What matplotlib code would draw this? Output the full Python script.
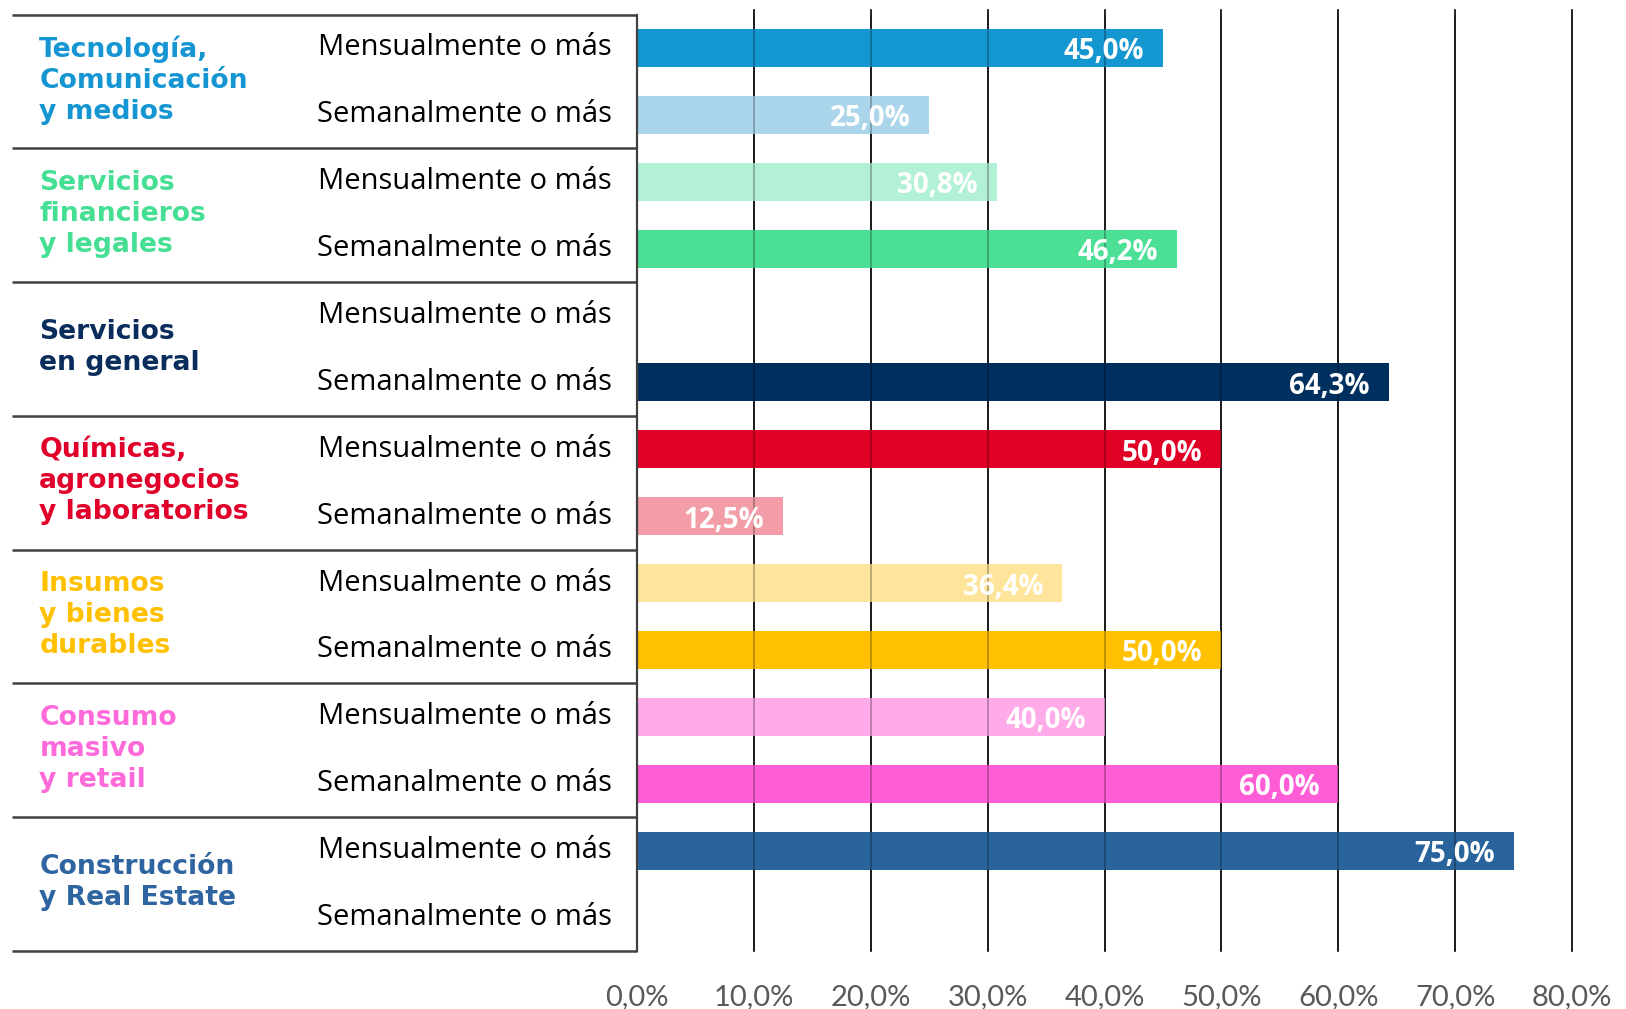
import matplotlib
matplotlib.use('Agg')
import matplotlib.pyplot as plt
from matplotlib.transforms import blended_transform_factory

# ---------------- data ----------------
categories = [
    "Tecnología,\nComunicación\ny medios",
    "Servicios\nfinancieros\ny legales",
    "Servicios\nen general",
    "Químicas,\nagronegocios\ny laboratorios",
    "Insumos\ny bienes\ndurables",
    "Consumo\nmasivo\ny retail",
    "Construcción\ny Real Estate",
]
frequencies = ["Mensualmente o más", "Semanalmente o más"]
mensual = [45.0, 30.8, None, 50.0, 36.4, 40.0, 75.0]
semanal = [25.0, 46.2, 64.3, 12.5, 50.0, 60.0, None]
ticks = [0, 10, 20, 30, 40, 50, 60, 70, 80]
tick_labels = ["0,0%", "10,0%", "20,0%", "30,0%", "40,0%", "50,0%", "60,0%", "70,0%", "80,0%"]

cat_colors = ['#1596D3', '#45DF94', '#0A2D5C', '#E0002A', '#FFC000', '#FF6ADB', '#2E65A1']
mensual_colors = ['#1496D1', '#B3F1D6', '#00305F', '#E10025', '#FFE59B', '#FFAAE9', '#28639B']
semanal_colors = ['#ABD5EA', '#4BE096', '#00305F', '#F29DA7', '#FFC100', '#FF5DD6', '#28639B']

# ---------------- figure ----------------
fig = plt.figure(figsize=(16.26, 10.09), dpi=100)
ax_left, ax_bottom, ax_w, ax_h = 0.3918, 0.0575, 0.575, 0.9281
ax = fig.add_axes([ax_left, ax_bottom, ax_w, ax_h])
n = len(categories)
ax.set_xlim(0, 80)
ax.set_ylim(2 * n, 0)
for s in ax.spines.values():
    s.set_visible(False)

# gridlines
for t in ticks[1:]:
    ax.axvline(t, ymin=0, ymax=1.005, color='black', lw=1.2, zorder=1, clip_on=False)
    ax.axvline(t, color='black', lw=1.2, alpha=0.3, zorder=3)

def fmt(v):
    return f"{v:.1f}".replace('.', ',') + '%'

# bars
for g in range(n):
    for k, (vals, cols) in enumerate([(mensual, mensual_colors), (semanal, semanal_colors)]):
        v = vals[g]
        y = 2 * g + k + 0.5
        if v is None:
            continue
        ax.barh(y, v, height=0.57, color=cols[g], zorder=2)
        ax.annotate(fmt(v), xy=(v, y), xytext=(-19, -4), textcoords='offset pixels',
                    ha='right', va='center', color='white', fontweight='bold',
                    fontsize=20, family='Open Sans', zorder=5)

# table lines
tr = blended_transform_factory(fig.transFigure, ax.transData)
for b in range(0, 2 * n + 1, 2):
    ax.plot([0.0076, ax_left], [b, b], transform=tr, color='#404040', lw=1.8,
            clip_on=False, solid_capstyle='butt', zorder=4)
ax.plot([0, 0], [0, 2 * n], color='#404040', lw=1.6, clip_on=False, zorder=4)

# labels
for g in range(n):
    fig.text(0.0242, 2 * g + 0.98, categories[g], transform=tr, ha='left', va='center',
             fontsize=19.2, fontweight='bold', color=cat_colors[g], family='DejaVu Sans',
             linespacing=1.25)
    for k in range(2):
        fig.text(0.3764, 2 * g + k + 0.5, frequencies[k], transform=tr, ha='right',
                 va='center', fontsize=21, color='black', family='Open Sans')

# ticks
ax.set_xticks(ticks, tick_labels)
ax.set_yticks([])
ax.tick_params(axis='x', length=0, pad=24, labelsize=21, labelcolor='#595959')
for lab in ax.get_xticklabels():
    lab.set_family('Lato')

fig.savefig('out.png', dpi=100)
